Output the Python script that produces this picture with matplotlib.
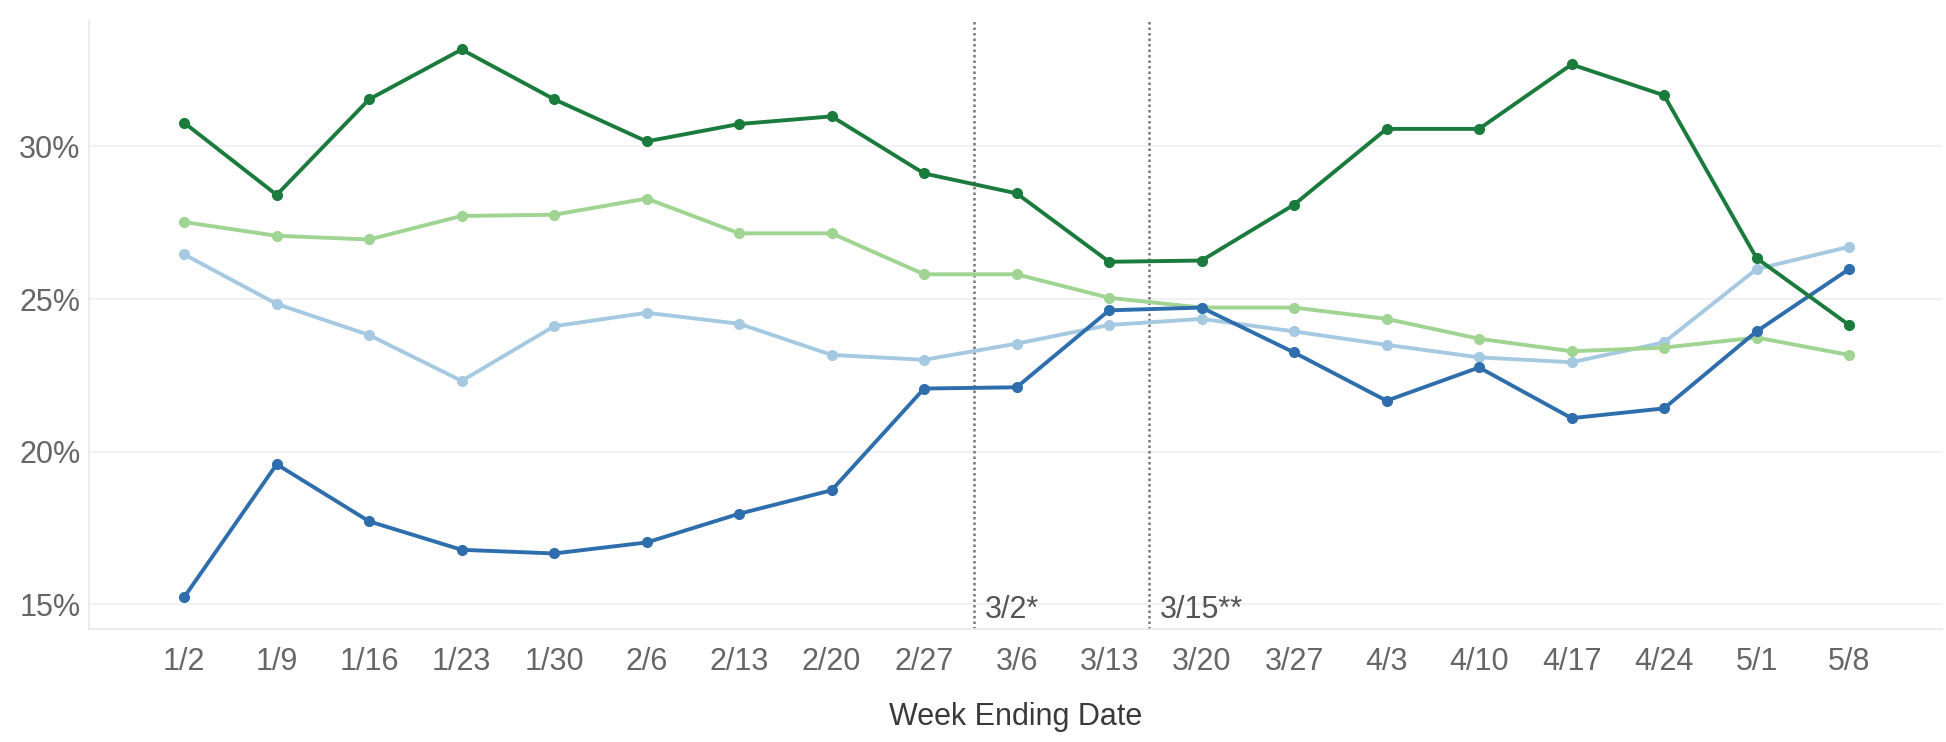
import matplotlib.pyplot as plt
from matplotlib.ticker import FuncFormatter

plt.rcParams['font.family'] = ['Liberation Sans', 'DejaVu Sans']

weeks = ["1/2", "1/9", "1/16", "1/23", "1/30", "2/6", "2/13", "2/20", "2/27", "3/6",
         "3/13", "3/20", "3/27", "4/3", "4/10", "4/17", "4/24", "5/1", "5/8"]

dark_green = [30.77, 28.41, 31.54, 33.17, 31.54, 30.16, 30.73, 30.98, 29.11, 28.46,
              26.22, 26.26, 28.09, 30.57, 30.57, 32.68, 31.67, 26.34, 24.15]
light_green = [27.52, 27.07, 26.95, 27.72, 27.76, 28.29, 27.15, 27.15, 25.81, 25.81,
               25.04, 24.72, 24.72, 24.35, 23.70, 23.29, 23.41, 23.74, 23.17]
light_blue = [26.46, 24.84, 23.82, 22.32, 24.11, 24.55, 24.19, 23.17, 23.01, 23.54,
              24.15, 24.35, 23.94, 23.50, 23.09, 22.93, 23.58, 25.98, 26.71]
dark_blue = [15.24, 19.59, 17.72, 16.79, 16.67, 17.03, 17.97, 18.74, 22.07, 22.11,
             24.63, 24.72, 23.25, 21.67, 22.76, 21.10, 21.42, 23.94, 25.98]

# event markers: (position on the week axis, label)
events = [(8.54, "3/2*"), (10.43, "3/15**")]

x = list(range(len(weeks)))

fig = plt.figure(figsize=(19.46, 7.42), dpi=100)
ax = fig.add_axes([0.0457, 0.152, 0.9520, 0.820])

series = [
    (light_blue, '#a6c9e2'),
    (light_green, '#a0d492'),
    (dark_blue, '#2f6ead'),
    (dark_green, '#1b7b3d'),
]
for vals, col in series:
    ax.plot(x, vals, color=col, linewidth=2.8, marker='o', markersize=7, zorder=3)

for pos, label in events:
    ax.axvline(pos, color='#777777', linestyle=(0, (1.0, 1.2)), linewidth=1.8, zorder=2)
    ax.text(pos + 0.12, 14.55, label, fontsize=22, color='#555555', ha='left', va='baseline')

ax.set_xlim(-1.03, 19.0)
ax.set_ylim(14.19, 34.11)
ax.set_yticks([15, 20, 25, 30])
ax.yaxis.set_major_formatter(FuncFormatter(lambda v, p: f"{v:.0f}%"))
ax.set_xticks(x)
ax.set_xticklabels(weeks)
ax.tick_params(axis='both', length=0, labelsize=22, labelcolor='#666666')
ax.tick_params(axis='x', pad=13)
ax.tick_params(axis='y', pad=6)

ax.grid(axis='y', color='#f0f0f0', linewidth=1.2)
ax.set_axisbelow(True)
for side in ['top', 'right']:
    ax.spines[side].set_visible(False)
for side in ['left', 'bottom']:
    ax.spines[side].set_color('#e8e8e8')
    ax.spines[side].set_linewidth(1.2)

ax.set_xlabel('Week Ending Date', fontsize=22, color='#3a3a3a', labelpad=18)

fig.savefig('out.png', dpi=100)
